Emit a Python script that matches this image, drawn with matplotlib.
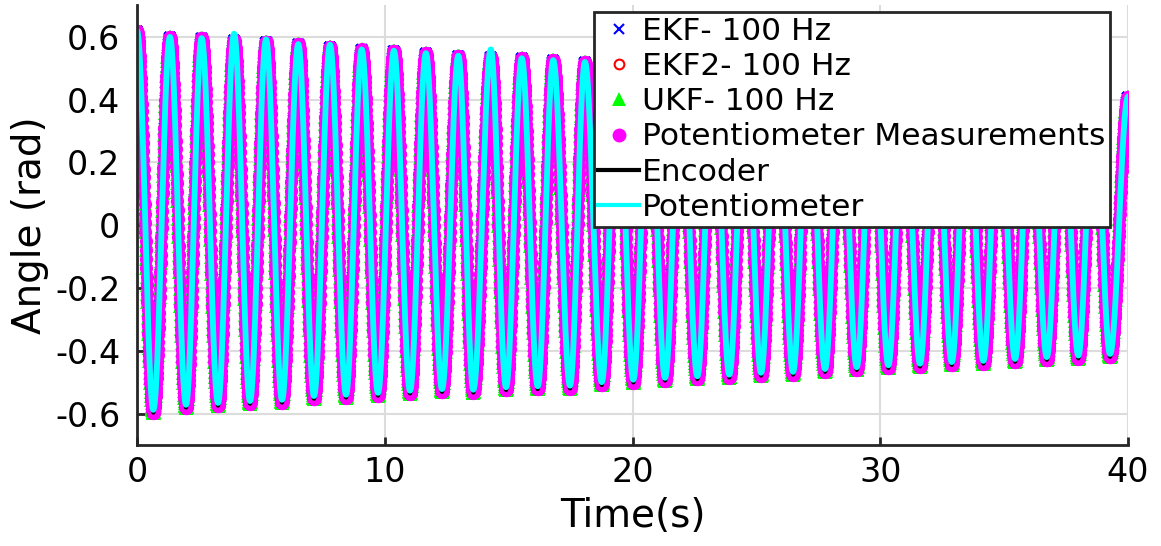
import numpy as np
import matplotlib.pyplot as plt

plt.rcParams['font.family'] = 'DejaVu Sans'
plt.rcParams['axes.unicode_minus'] = False

# extrema of the swinging arm (time in s, angle in rad)
peak_t = [0.0, 1.33, 2.61, 3.92, 5.21, 6.51, 7.79, 9.07, 10.37, 11.66, 12.97,
          14.28, 15.53, 16.80, 18.08, 19.39, 20.67, 21.96, 23.26, 24.55, 25.83,
          27.12, 28.41, 29.69, 30.96, 32.24, 33.52, 34.80, 36.08, 37.36, 38.63, 40.0]
peak_v = [0.62, 0.60, 0.596, 0.59, 0.585, 0.577, 0.569, 0.56, 0.556, 0.548, 0.54,
          0.537, 0.532, 0.526, 0.52, 0.515, 0.508, 0.502, 0.497, 0.491, 0.486,
          0.48, 0.474, 0.469, 0.464, 0.459, 0.454, 0.449, 0.444, 0.439, 0.434, 0.41]
trough_t = [0.658, 1.978, 3.269, 4.561, 5.853, 7.144, 8.436, 9.728, 11.019, 12.311,
            13.574, 14.894, 16.174, 17.477, 18.757, 20.032, 21.312, 22.616, 23.907,
            25.187, 26.478, 27.770, 29.049, 30.325, 31.604, 32.884, 34.160, 35.439,
            36.719, 37.994, 39.274]
trough_v = [-0.598, -0.582, -0.576, -0.570, -0.566, -0.554, -0.550, -0.544, -0.537,
            -0.532, -0.534, -0.526, -0.523, -0.521, -0.510, -0.502, -0.496, -0.491,
            -0.486, -0.480, -0.477, -0.468, -0.462, -0.456, -0.451, -0.446, -0.442,
            -0.436, -0.430, -0.425, -0.420]
# potentiometer: overshoots a little at a few tops, stops short of the encoder at the bottoms
pot_peak_v = [0.62, 0.60, 0.596, 0.61, 0.592, 0.577, 0.575, 0.56, 0.556, 0.548, 0.54,
              0.56, 0.532, 0.526, 0.52, 0.515, 0.508, 0.502, 0.497, 0.491, 0.486,
              0.48, 0.474, 0.469, 0.464, 0.459, 0.454, 0.449, 0.444, 0.439, 0.434, 0.41]
pot_trough_v = [-0.588, -0.572, -0.566, -0.560, -0.556, -0.544, -0.540, -0.534, -0.527,
                -0.522, -0.524, -0.516, -0.513, -0.511, -0.500, -0.492, -0.486, -0.481,
                -0.476, -0.470, -0.467, -0.458, -0.452, -0.446, -0.441, -0.436, -0.432,
                -0.426, -0.420, -0.415, -0.410]

x_ticks = [0, 10, 20, 30, 40]
y_ticks = [-0.6, -0.4, -0.2, 0, 0.2, 0.4, 0.6]
labels = ['EKF- 100 Hz', 'EKF2- 100 Hz', 'UKF- 100 Hz',
          'Potentiometer Measurements', 'Encoder', 'Potentiometer']


def swing(tops, bottoms):
    # join the read extrema with half-cosine arcs, sampled at 100 Hz
    et = np.empty(len(tops) + len(bottoms))
    ev = np.empty_like(et)
    et[0::2], ev[0::2] = peak_t, tops
    et[1::2], ev[1::2] = trough_t, bottoms
    t = np.arange(0, 4001) / 100.0
    k = np.clip(np.searchsorted(et, t, side='right') - 1, 0, len(et) - 2)
    f = (t - et[k]) / (et[k + 1] - et[k])
    return t, ev[k] + (ev[k + 1] - ev[k]) * (1 - np.cos(np.pi * f)) / 2


t, ang = swing(peak_v, trough_v)
_, pot = swing(pot_peak_v, pot_trough_v)

fig = plt.figure(figsize=(11.61, 5.46), dpi=100)
ax = fig.add_axes([0.118, 0.185, 0.8536, 0.805])

ax.plot(t, ang, ls='none', marker='x', ms=6.5, mew=1.5, color='blue', label=labels[0])
ax.plot(t, ang, ls='none', marker='o', ms=6.5, mew=1.5, mfc='none', color='red', label=labels[1])
ax.plot(t, ang, ls='none', marker='^', ms=9.5, mew=0, color='#00ff00', label=labels[2])
ax.plot(t, ang, ls='none', marker='o', ms=9.5, mew=0, color='magenta', label=labels[3])
ax.plot(t, ang, color='black', lw=2.5, label=labels[4])
ax.plot(t, pot, color='cyan', lw=4.2, label=labels[5])

ax.set_xlim(0, 40)
ax.set_ylim(-0.7, 0.7)
ax.set_xticks(x_ticks)
ax.set_yticks(y_ticks)
ax.set_yticklabels(['%g' % v for v in y_ticks])
ax.grid(True, color='#dcdcdc', lw=1.5)
ax.set_axisbelow(True)
for s in ['top', 'right']:
    ax.spines[s].set_visible(False)
for s in ['left', 'bottom']:
    ax.spines[s].set_color('#262626')
    ax.spines[s].set_linewidth(2)
ax.tick_params(direction='in', length=6, width=2, color='#262626', labelsize=24)
ax.tick_params(axis='y', pad=12)
ax.tick_params(axis='x', pad=8)

ax.set_xlabel('Time(s)', fontsize=28, labelpad=6)
ax.set_ylabel('Angle (rad)', fontsize=28, labelpad=4)

leg = ax.legend(loc='upper right', bbox_to_anchor=(0.982, 0.985), fontsize=22.5,
                fancybox=False, framealpha=1, edgecolor='#262626',
                borderpad=0.15, labelspacing=0.2, handlelength=1.3,
                handletextpad=0.1, borderaxespad=0)
leg.get_frame().set_linewidth(2)
for h, ms in zip(leg.legend_handles[:4], [7, 7, 10, 10]):
    h.set_markersize(ms)
for h in leg.legend_handles[4:]:
    h.set_linewidth(3)

plt.savefig('out.png', dpi=100)
